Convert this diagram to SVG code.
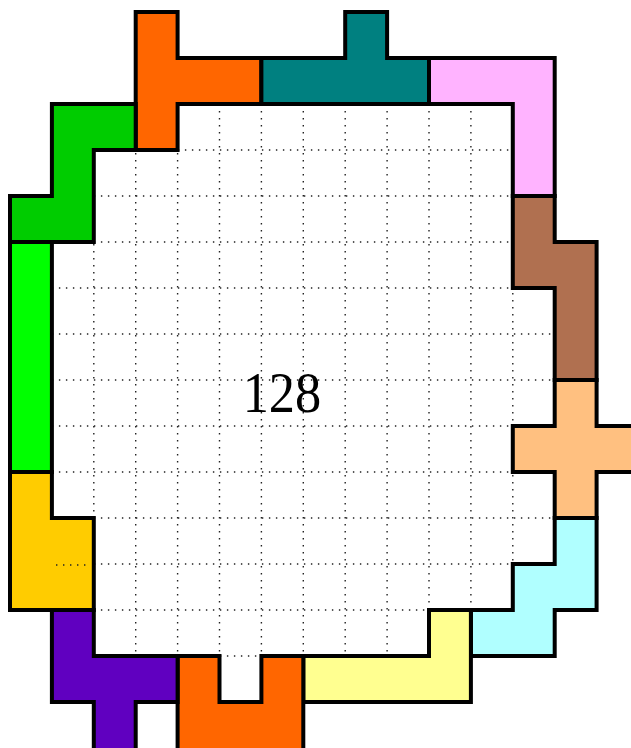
<svg xmlns="http://www.w3.org/2000/svg" width="631" height="748" viewBox="0 0 631 748">
<style>
.grid line{stroke:#222;stroke-width:1.4;stroke-dasharray:1.4 5.6;fill:none}
.p{stroke:#000;stroke-width:4;stroke-linejoin:miter}
.label{font-family:"Liberation Serif","Times New Roman",serif;font-size:58px;fill:#000}
</style>
<rect width="631" height="748" fill="#fff"/>
<g id="grid" class="grid">
<line x1="93.8" y1="104" x2="93.8" y2="656"/>
<line x1="135.7" y1="104" x2="135.7" y2="656"/>
<line x1="177.6" y1="104" x2="177.6" y2="656"/>
<line x1="219.5" y1="104" x2="219.5" y2="656"/>
<line x1="261.4" y1="104" x2="261.4" y2="656"/>
<line x1="303.3" y1="104" x2="303.3" y2="656"/>
<line x1="345.2" y1="104" x2="345.2" y2="656"/>
<line x1="387.1" y1="104" x2="387.1" y2="656"/>
<line x1="429" y1="104" x2="429" y2="656"/>
<line x1="470.9" y1="104" x2="470.9" y2="656"/>
<line x1="512.8" y1="104" x2="512.8" y2="656"/>
<line x1="51.9" y1="150" x2="554.7" y2="150"/>
<line x1="51.9" y1="196" x2="554.7" y2="196"/>
<line x1="51.9" y1="242" x2="554.7" y2="242"/>
<line x1="51.9" y1="288" x2="554.7" y2="288"/>
<line x1="51.9" y1="334" x2="554.7" y2="334"/>
<line x1="51.9" y1="380" x2="554.7" y2="380"/>
<line x1="51.9" y1="426" x2="554.7" y2="426"/>
<line x1="51.9" y1="472" x2="554.7" y2="472"/>
<line x1="51.9" y1="518" x2="554.7" y2="518"/>
<line x1="51.9" y1="564" x2="554.7" y2="564"/>
<line x1="51.9" y1="610" x2="554.7" y2="610"/>
<line x1="51.9" y1="656" x2="554.7" y2="656"/>
</g>
<g id="pieces">
<g id="orange-top"><polygon class="p" fill="#FF6600" points="135.7,12 177.6,12 177.6,58 261.4,58 261.4,104 177.6,104 177.6,150 135.7,150"/></g>
<g id="teal"><polygon class="p" fill="#008080" points="261.4,58 345.2,58 345.2,12 387.1,12 387.1,58 429,58 429,104 261.4,104"/></g>
<g id="pink"><polygon class="p" fill="#FFB3FF" points="429,58 554.7,58 554.7,196 512.8,196 512.8,104 429,104"/></g>
<g id="brown"><polygon class="p" fill="#B07050" points="512.8,196 554.7,196 554.7,242 596.6,242 596.6,380 554.7,380 554.7,288 512.8,288"/></g>
<g id="cross"><polygon class="p" fill="#FFC080" points="554.7,380 596.6,380 596.6,426 638.5,426 638.5,472 596.6,472 596.6,518 554.7,518 554.7,472 512.8,472 512.8,426 554.7,426"/></g>
<g id="cyan"><polygon class="p" fill="#B0FFFF" points="554.7,518 596.6,518 596.6,610 554.7,610 554.7,656 470.9,656 470.9,610 512.8,610 512.8,564 554.7,564"/></g>
<g id="yellow"><polygon class="p" fill="#FFFF90" points="429,610 470.9,610 470.9,702 303.3,702 303.3,656 429,656"/></g>
<g id="orange-bottom"><polygon class="p" fill="#FF6600" points="177.6,656 219.5,656 219.5,702 261.4,702 261.4,656 303.3,656 303.3,750 177.6,750"/></g>
<g id="purple"><polygon class="p" fill="#6000C0" points="51.9,610 93.8,610 93.8,656 177.6,656 177.6,702 135.7,702 135.7,750 93.8,750 93.8,702 51.9,702"/></g>
<g id="gold"><polygon class="p" fill="#FFCC00" points="10,472 51.9,472 51.9,518 93.8,518 93.8,610 10,610"/></g>
<g id="green"><polygon class="p" fill="#00FF00" points="10,242 51.9,242 51.9,472 10,472"/></g>
<g id="dark-green"><polygon class="p" fill="#00CC00" points="51.9,104 135.7,104 135.7,150 93.8,150 93.8,242 10,242 10,196 51.9,196"/></g>
</g>
<g id="grid-extra" class="grid"><line x1="56" y1="565" x2="90" y2="565"/></g>
<g id="connectors"/>
<text class="label" x="242.7" y="411.5" textLength="78.5" lengthAdjust="spacingAndGlyphs">128</text>
</svg>
